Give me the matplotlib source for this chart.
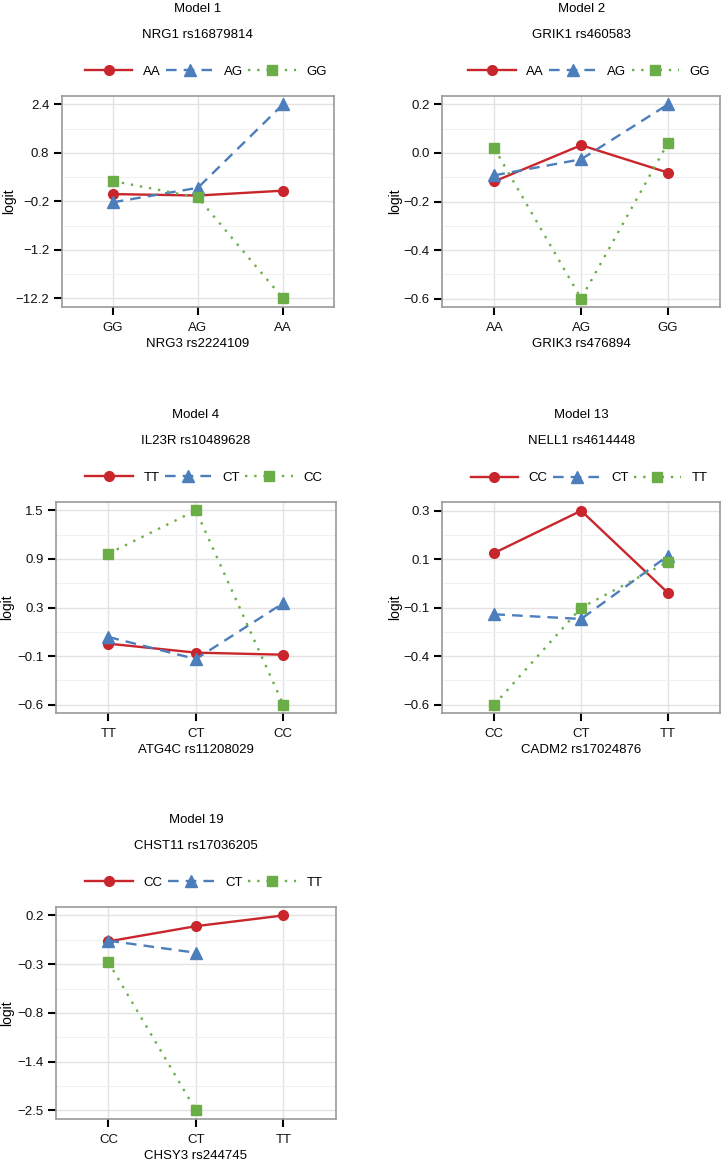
import numpy as np
import matplotlib
matplotlib.use("Agg")
import matplotlib.pyplot as plt
from matplotlib.lines import Line2D
from matplotlib.scale import FuncScale

plt.rcParams['font.family'] = ['Liberation Sans', 'DejaVu Sans']
FS = 9.5

# ---------------- data ----------------
titles = ["Model 1", "Model 2", "Model 4", "Model 13", "Model 19"]
subtitles = ["NRG1 rs16879814", "GRIK1 rs460583", "IL23R rs10489628",
             "NELL1 rs4614448", "CHST11 rs17036205"]
xlabels = ["NRG3 rs2224109", "GRIK3 rs476894", "ATG4C rs11208029",
           "CADM2 rs17024876", "CHSY3 rs244745"]
x_cats = [["GG", "AG", "AA"], ["AA", "AG", "GG"], ["TT", "CT", "CC"],
          ["CC", "CT", "TT"], ["CC", "CT", "TT"]]
series_names = [["AA", "AG", "GG"], ["AA", "AG", "GG"], ["TT", "CT", "CC"],
                ["CC", "CT", "TT"], ["CC", "CT", "TT"]]
y_ticks = [[-12.2, -1.2, -0.2, 0.8, 2.4],
           [-0.6, -0.4, -0.2, 0.0, 0.2],
           [-0.6, -0.1, 0.3, 0.9, 1.5],
           [-0.6, -0.4, -0.1, 0.1, 0.3],
           [-2.5, -1.4, -0.8, -0.3, 0.2]]

m1_s1 = [-0.05, -0.08, 0.02]
m1_s2 = [-0.22, 0.08, 2.4]
m1_s3 = [0.22, -0.12, -12.2]

m2_s1 = [-0.117, 0.032, -0.081]
m2_s2 = [-0.092, -0.026, 0.2]
m2_s3 = [0.019, -0.6, 0.041]

m4_s1 = [0.002, -0.072, -0.089]
m4_s2 = [0.057, -0.131, 0.354]
m4_s3 = [0.966, 1.5, -0.6]

m13_s1 = [0.126, 0.3, -0.039]
m13_s2 = [-0.141, -0.17, 0.114]
m13_s3 = [-0.6, -0.1, 0.089]

m19_s1 = [-0.066, 0.09, 0.2]
m19_s2 = [-0.059, -0.183, np.nan]
m19_s3 = [-0.279, -2.5, np.nan]

panel_values = [[m1_s1, m1_s2, m1_s3], [m2_s1, m2_s2, m2_s3],
                [m4_s1, m4_s2, m4_s3], [m13_s1, m13_s2, m13_s3],
                [m19_s1, m19_s2, m19_s3]]

# ---------------- styles ----------------
colors = ['#C9252C', '#4D7EBC', '#6BAE48']
markers = ['o', '^', 's']
msizes = [7.0, 8.0, 6.5]
lstyles = ['-', (0, (4.5, 3.0)), (0, (1.0, 2.9))]

W, H = 725, 1162
fig = plt.figure(figsize=(W / 100, H / 100), dpi=100)

# axes boxes in pixels: left, top, right, bottom
boxes = [(61.7, 95.7, 334, 307), (442.3, 95.7, 720, 307.3),
         (56, 501.7, 335.7, 713.3), (442.3, 502, 720, 713.3),
         (56, 906.7, 335.7, 1119)]


def make_pwl(xp, fp):
    xp = np.asarray(xp, float)
    fp = np.asarray(fp, float)

    def f(v):
        v = np.asarray(v, float)
        out = np.interp(v, xp, fp)
        lo_s = (fp[1] - fp[0]) / (xp[1] - xp[0])
        hi_s = (fp[-1] - fp[-2]) / (xp[-1] - xp[-2])
        out = np.where(v < xp[0], fp[0] + (v - xp[0]) * lo_s, out)
        out = np.where(v > xp[-1], fp[-1] + (v - xp[-1]) * hi_s, out)
        return out
    return f


for i in range(5):
    l, t, r, b = boxes[i]
    ax = fig.add_axes([l / W, 1 - b / H, (r - l) / W, (b - t) / H])
    wpx, hpx = r - l, b - t
    ticks = y_ticks[i]
    pos = np.arange(len(ticks), dtype=float)
    fwd = make_pwl(ticks, pos)
    inv = make_pwl(pos, ticks)
    ax.set_yscale(FuncScale(ax.yaxis, (fwd, inv)))

    xs = np.arange(3)
    for k in range(3):
        ax.plot(xs, panel_values[i][k], color=colors[k], marker=markers[k],
                markersize=msizes[k], linestyle=lstyles[k], linewidth=1.7,
                zorder=3)

    ax.set_xlim(-0.6, 2.6)
    ax.set_ylim(float(inv(-0.18)), float(inv(len(ticks) - 1 + 0.18)))
    ax.set_xticks(xs)
    ax.set_xticklabels(x_cats[i], fontsize=FS)
    ax.set_yticks(ticks)
    ax.set_yticklabels([f"{v:.1f}".replace('-', '\u2212') for v in ticks],
                       fontsize=FS)
    ax.set_yticks([float(inv(p + 0.5)) for p in pos[:-1]], minor=True)
    ax.set_xticks([], minor=True)
    ax.grid(True, which='major', color='#E3E3E3', linewidth=1.0, zorder=0)
    ax.grid(True, which='minor', axis='y', color='#F1F1F1', linewidth=0.8,
            zorder=0)
    ax.set_axisbelow(True)
    ax.tick_params(axis='both', which='major', direction='out', length=6,
                   width=1.5, color='black', labelcolor='#111111')
    ax.tick_params(axis='y', which='major', pad=3)
    ax.tick_params(axis='x', which='major', pad=4.5)
    ax.tick_params(axis='both', which='minor', length=0)
    for s in ax.spines.values():
        s.set_color('#9A9A9A')
        s.set_linewidth(1.2)

    ax.set_ylabel('logit', fontsize=FS + 0.5)
    ax.yaxis.set_label_coords(-(47 if i % 2 == 1 else (53 if i == 0 else 49)) / wpx, 0.5)
    ax.yaxis.label.set_va('center')
    ax.set_xlabel(xlabels[i], fontsize=FS)
    ax.xaxis.set_label_coords(0.5, -37 / hpx)
    ax.xaxis.label.set_va('center')

    ax.text(0.5, 1 + 87 / hpx, titles[i], transform=ax.transAxes,
            ha='center', va='center', fontsize=FS)
    ax.text(0.5, 1 + 60.7 / hpx, subtitles[i], transform=ax.transAxes,
            ha='center', va='center', fontsize=FS)

    handles = [Line2D([], [], color=colors[k], marker=markers[k],
                      markersize=msizes[k], linestyle=lstyles[k],
                      linewidth=1.7) for k in range(3)]
    ax.legend(handles, series_names[i], loc='center',
              bbox_to_anchor=(0.5 + 8 / wpx, 1 + 24 / hpx), ncol=3,
              frameon=False, fontsize=FS, handlelength=3.6,
              handletextpad=0.8, columnspacing=0.4, borderaxespad=0,
              borderpad=0)

fig.savefig('out.png', dpi=100)
